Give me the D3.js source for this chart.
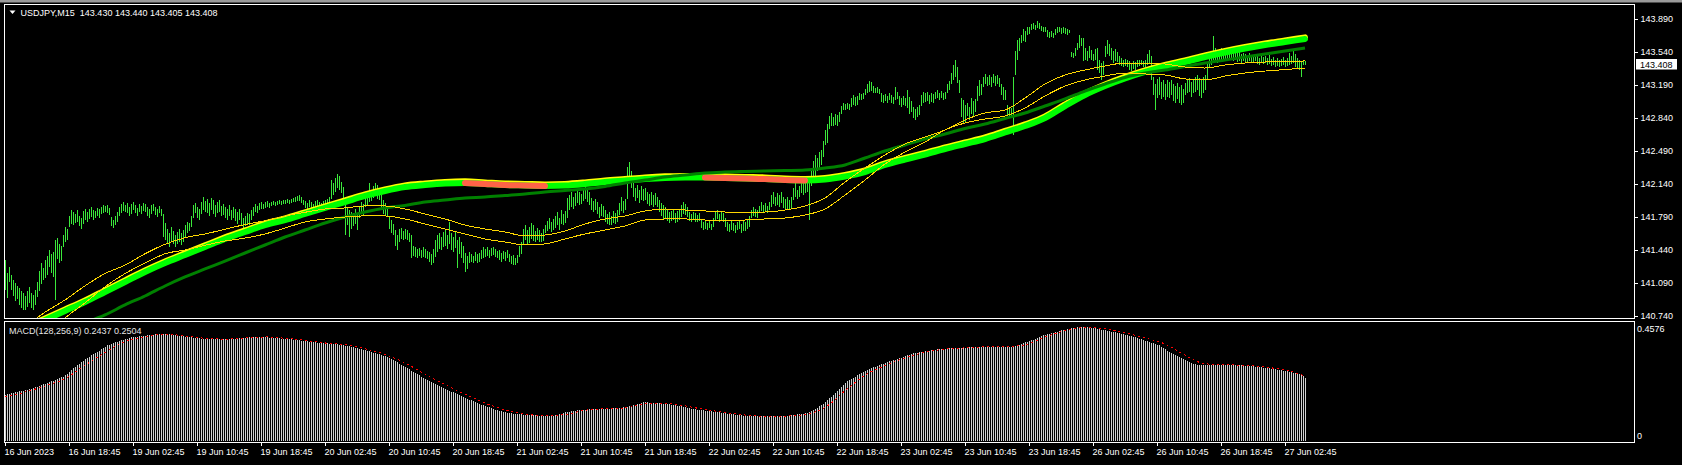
<!DOCTYPE html>
<html><head><meta charset="utf-8">
<script src="https://cdn.jsdelivr.net/npm/d3@7"></script>
<style>
html,body{margin:0;padding:0;background:#000;}
svg{display:block;}
text{font-family:"Liberation Sans",Arial,sans-serif;font-size:9px;fill:#fff;}
</style></head><body>
<svg id="chart" width="1682" height="465"></svg>
<script>
// ---------------- DATA ----------------
const symbolTitle = "USDJPY,M15";
const lastOHLC = [143.430, 143.440, 143.405, 143.408];
const timeLabels = ["16 Jun 2023","16 Jun 18:45","19 Jun 02:45","19 Jun 10:45","19 Jun 18:45","20 Jun 02:45","20 Jun 10:45","20 Jun 18:45","21 Jun 02:45","21 Jun 10:45","21 Jun 18:45","22 Jun 02:45","22 Jun 10:45","22 Jun 18:45","23 Jun 02:45","23 Jun 10:45","23 Jun 18:45","26 Jun 02:45","26 Jun 10:45","26 Jun 18:45","27 Jun 02:45"];
const LABEL_EVERY = 32; // bars between time labels
const priceTicks = [143.890,143.540,143.190,142.840,142.490,142.140,141.790,141.440,141.090,140.740];
const priceRange = [140.740, 143.890];

const barHigh = [
141.33,141.20,141.26,141.18,141.12,141.09,141.06,141.04,141.00,140.98,
140.95,141.00,141.05,140.98,140.96,141.02,141.10,141.22,141.30,141.25,
141.33,141.38,141.44,141.40,141.42,141.55,141.57,141.50,141.48,141.60,
141.68,141.66,141.80,141.86,141.84,141.82,141.86,141.80,141.78,141.85,
141.88,141.84,141.87,141.90,141.86,141.85,141.89,141.88,141.90,141.92,
141.91,141.92,141.89,141.79,141.76,141.80,141.84,141.90,141.93,141.95,
141.92,141.94,141.90,141.93,141.95,141.92,141.89,141.93,141.91,141.94,
141.93,141.90,141.88,141.92,141.93,141.90,141.87,141.91,141.88,141.82,
141.73,141.66,141.62,141.68,141.64,141.60,141.63,141.66,141.62,141.65,
141.70,141.74,141.73,141.80,141.92,141.94,141.90,141.88,141.95,142.00,
141.96,141.98,141.94,141.99,141.97,141.92,141.95,141.97,141.91,141.93,
141.90,141.88,141.92,141.86,141.90,141.87,141.84,141.88,141.83,141.78,
141.80,141.83,141.82,141.86,141.90,141.93,141.91,141.94,141.95,141.93,
141.95,141.96,141.94,141.95,141.96,141.95,141.96,141.97,141.96,141.97,
141.97,141.98,141.97,141.98,141.99,142.00,142.01,142.02,142.00,141.97,
141.96,141.94,141.97,141.95,141.93,141.96,141.97,141.95,141.94,141.96,
141.97,141.98,142.00,142.18,142.15,142.20,142.25,142.22,142.16,142.11,
142.00,141.90,141.86,141.84,141.83,141.88,141.83,141.90,141.95,141.93,
142.00,142.04,142.15,142.08,142.12,142.15,142.13,142.10,142.02,141.97,
141.94,141.90,141.79,141.76,141.72,141.65,141.60,141.66,141.67,141.64,
141.66,141.65,141.62,141.60,141.48,141.47,141.45,141.46,141.44,141.47,
141.45,141.43,141.42,141.40,141.45,141.55,141.60,141.62,141.58,141.63,
141.65,141.60,141.74,141.62,141.58,141.63,141.55,141.58,141.52,141.48,
141.41,141.38,141.42,141.40,141.38,141.42,141.40,141.41,141.44,141.47,
141.45,141.47,141.44,141.46,141.47,141.45,141.43,141.44,141.41,141.43,
141.42,141.44,141.40,141.38,141.39,141.36,141.39,141.48,141.53,141.66,
141.71,141.65,141.68,141.73,141.70,141.64,141.67,141.65,141.62,141.66,
141.70,141.75,141.78,141.74,141.77,141.80,141.84,141.78,141.86,141.82,
141.85,141.99,142.02,142.05,142.00,142.04,142.08,142.05,142.03,142.10,
142.13,142.08,142.05,141.99,141.96,141.98,141.95,141.90,141.93,141.91,
141.86,141.82,141.84,141.80,141.85,141.83,141.86,141.94,142.00,141.96,
141.98,142.32,142.37,142.28,142.21,142.10,142.13,142.08,142.12,142.09,
142.10,142.06,142.03,142.05,142.02,142.04,142.00,141.97,141.94,141.92,
141.90,141.86,141.84,141.85,141.86,141.83,141.85,141.86,141.92,141.95,
141.93,141.90,141.84,141.82,141.84,141.83,141.81,141.83,141.76,141.74,
141.75,141.73,141.76,141.72,141.78,141.84,141.86,141.82,141.85,141.83,
141.78,141.74,141.72,141.76,141.73,141.70,141.74,141.76,141.72,141.75,
141.74,141.76,141.80,141.86,141.90,141.88,141.86,141.91,141.95,141.92,
141.94,141.91,141.95,142.02,142.05,142.00,142.04,142.02,142.05,142.00,
141.98,142.00,141.97,142.00,142.10,142.15,142.08,142.12,142.18,142.15,
142.16,142.18,142.18,142.30,142.38,142.45,142.42,142.48,142.50,142.60,
142.71,142.78,142.86,142.89,142.85,142.88,142.87,142.90,142.97,143.00,
142.99,143.00,142.99,143.05,143.08,143.06,143.07,143.10,143.09,143.10,
143.15,143.20,143.23,143.22,143.18,143.16,143.17,143.15,143.10,143.08,
143.09,143.07,143.10,143.08,143.06,143.17,143.12,143.07,143.05,143.07,
143.05,143.14,143.06,143.02,142.96,142.94,142.96,142.98,143.08,143.12,
143.10,143.12,143.08,143.11,143.09,143.12,143.14,143.11,143.13,143.10,
143.12,143.20,143.23,143.32,143.40,143.455,143.38,143.24,143.05,143.03,
142.98,143.00,142.96,143.05,143.02,143.04,143.18,143.24,143.20,143.27,
143.31,143.28,143.30,143.27,143.31,143.29,143.30,143.26,143.20,143.17,
143.14,142.98,142.96,142.95,143.28,143.55,143.67,143.69,143.72,143.78,
143.76,143.81,143.80,143.84,143.85,143.83,143.87,143.85,143.82,143.80,
143.81,143.77,143.75,143.76,143.74,143.78,143.80,143.81,143.79,143.80,
143.79,143.78,143.77,143.54,143.53,143.58,143.64,143.72,143.69,143.69,
143.58,143.55,143.60,143.56,143.52,143.57,143.58,143.455,143.42,143.44,
143.60,143.67,143.63,143.58,143.55,143.57,143.54,143.50,143.48,143.46,
143.47,143.45,143.44,143.42,143.44,143.43,143.46,143.45,143.46,143.44,
143.45,143.52,143.56,143.50,143.28,143.20,143.25,143.27,143.22,143.24,
143.20,143.24,143.22,143.24,143.20,143.18,143.21,143.17,143.19,143.15,
143.21,143.24,143.26,143.22,143.25,143.28,143.30,143.26,143.24,143.28,
143.30,143.43,143.50,143.54,143.71,143.58,143.55,143.57,143.58,143.55,
143.56,143.58,143.55,143.57,143.54,143.56,143.53,143.55,143.52,143.53,
143.52,143.50,143.53,143.51,143.49,143.52,143.50,143.48,143.51,143.49,
143.50,143.48,143.51,143.47,143.49,143.46,143.48,143.45,143.47,143.49,
143.46,143.48,143.53,143.50,143.56,143.52,143.48,143.46,143.44,143.45,
143.44];

const barLow = [
141.02,140.93,141.10,141.02,140.95,140.90,140.92,140.86,140.82,140.80,
140.80,140.84,140.88,140.82,140.80,140.86,140.94,141.00,141.08,141.12,
141.14,141.18,141.26,141.20,141.15,140.91,141.34,141.30,141.32,141.47,
141.52,141.55,141.68,141.72,141.70,141.73,141.74,141.69,141.66,141.72,
141.76,141.74,141.77,141.79,141.76,141.78,141.80,141.78,141.82,141.83,
141.84,141.83,141.81,141.69,141.67,141.71,141.74,141.80,141.83,141.85,
141.84,141.83,141.80,141.82,141.86,141.83,141.80,141.84,141.82,141.85,
141.84,141.80,141.78,141.82,141.85,141.81,141.79,141.83,141.80,141.58,
141.55,141.50,141.47,141.52,141.50,141.47,141.50,141.52,141.49,141.53,
141.58,141.62,141.64,141.68,141.78,141.83,141.78,141.76,141.82,141.86,
141.84,141.83,141.80,141.86,141.82,141.79,141.83,141.84,141.80,141.81,
141.78,141.76,141.80,141.76,141.78,141.75,141.72,141.76,141.71,141.66,
141.69,141.72,141.70,141.76,141.80,141.84,141.83,141.86,141.88,141.87,
141.89,141.90,141.89,141.91,141.92,141.91,141.92,141.93,141.92,141.93,
141.93,141.94,141.93,141.94,141.95,141.95,141.96,141.96,141.94,141.92,
141.89,141.88,141.90,141.88,141.87,141.89,141.90,141.89,141.88,141.90,
141.90,141.91,141.92,141.98,142.02,142.06,142.10,142.08,142.04,141.97,
141.60,141.70,141.58,141.66,141.69,141.72,141.65,141.78,141.82,141.80,
141.90,141.92,141.95,141.96,141.99,142.02,141.98,141.97,141.86,141.82,
141.80,141.79,141.66,141.62,141.60,141.48,141.44,141.52,141.56,141.55,
141.56,141.55,141.52,141.36,141.38,141.37,141.36,141.38,141.36,141.37,
141.36,141.34,141.31,141.28,141.30,141.37,141.42,141.45,141.44,141.47,
141.48,141.45,141.50,141.44,141.42,141.46,141.25,141.40,141.36,141.30,
141.21,141.24,141.30,141.31,141.30,141.32,141.30,141.31,141.34,141.36,
141.37,141.38,141.36,141.38,141.39,141.37,141.36,141.33,141.31,141.34,
141.32,141.35,141.31,141.29,141.28,141.28,141.30,141.37,141.40,141.49,
141.55,141.50,141.51,141.56,141.54,141.52,141.55,141.53,141.52,141.54,
141.62,141.64,141.66,141.63,141.65,141.67,141.70,141.65,141.72,141.70,
141.73,141.78,141.86,141.90,141.88,141.91,141.94,141.92,141.93,141.96,
141.98,141.95,141.92,141.86,141.84,141.86,141.82,141.78,141.80,141.79,
141.74,141.72,141.70,141.71,141.73,141.72,141.74,141.81,141.85,141.83,
141.86,141.98,142.18,142.10,142.00,141.96,141.99,141.94,141.97,141.96,
141.97,141.93,141.91,141.92,141.90,141.92,141.90,141.84,141.80,141.76,
141.78,141.75,141.73,141.75,141.76,141.73,141.74,141.76,141.79,141.82,
141.81,141.79,141.75,141.74,141.76,141.74,141.74,141.75,141.67,141.65,
141.66,141.65,141.67,141.65,141.68,141.75,141.77,141.74,141.76,141.74,
141.68,141.64,141.63,141.65,141.64,141.62,141.65,141.66,141.62,141.64,
141.64,141.66,141.68,141.78,141.80,141.79,141.78,141.83,141.85,141.84,
141.85,141.83,141.86,141.90,141.93,141.91,141.92,141.90,141.94,141.89,
141.86,141.88,141.87,141.89,141.97,142.00,141.98,142.00,142.04,142.02,
142.04,142.05,141.76,142.12,142.20,142.22,142.28,142.30,142.34,142.43,
142.55,142.58,142.72,142.76,142.75,142.77,142.76,142.80,142.88,142.92,
142.93,142.94,142.93,142.96,142.98,142.97,142.98,143.03,143.03,143.04,
143.08,143.10,143.12,143.13,143.10,143.10,143.11,143.09,143.01,143.00,
143.02,143.00,143.03,143.00,142.99,143.03,143.04,142.98,142.96,142.98,
142.97,142.95,142.88,142.90,142.84,142.82,142.85,142.87,142.97,143.00,
143.01,143.02,142.99,143.01,143.00,143.04,143.05,143.03,143.05,143.03,
143.04,143.10,143.14,143.20,143.24,143.28,143.21,143.10,142.85,142.78,
142.80,142.86,142.82,142.88,142.85,142.90,143.02,143.07,143.08,143.17,
143.20,143.18,143.19,143.17,143.21,143.18,143.20,143.17,143.08,143.03,
143.03,142.86,142.85,142.86,142.66,143.30,143.46,143.55,143.64,143.66,
143.65,143.72,143.73,143.77,143.78,143.77,143.79,143.78,143.76,143.75,
143.75,143.70,143.69,143.70,143.69,143.72,143.74,143.75,143.73,143.74,
143.73,143.72,143.74,143.49,143.48,143.50,143.56,143.58,143.60,143.44,
143.46,143.44,143.48,143.45,143.44,143.46,143.35,143.32,143.24,143.30,
143.49,143.52,143.50,143.45,143.42,143.44,143.43,143.40,143.39,143.38,
143.39,143.38,143.35,143.34,143.36,143.35,143.38,143.39,143.40,143.38,
143.38,143.40,143.42,143.24,143.08,142.93,143.05,143.08,143.04,143.06,
143.03,143.06,143.05,143.08,143.02,143.00,143.04,143.00,142.98,143.00,
143.08,143.10,143.12,143.06,143.10,143.12,143.14,143.07,143.05,143.10,
143.14,143.24,143.37,143.40,143.45,143.44,143.42,143.45,143.46,143.44,
143.46,143.47,143.45,143.46,143.44,143.45,143.43,143.44,143.42,143.44,
143.43,143.43,143.44,143.43,143.42,143.44,143.41,143.40,143.42,143.41,
143.42,143.40,143.41,143.39,143.40,143.38,143.39,143.38,143.39,143.40,
143.38,143.39,143.40,143.41,143.42,143.38,143.36,143.35,143.27,143.40,
143.405];

const MA_STEP = 10; // bars between moving-average samples
const maFast = [140.507,140.602,140.698,140.793,140.889,140.995,141.101,141.207,141.302,141.387,
141.472,141.557,141.631,141.705,141.758,141.822,141.886,141.949,142.013,142.066,
142.108,142.129,142.145,142.151,142.140,142.129,142.124,142.119,142.124,142.140,
142.161,142.177,142.193,142.204,142.208,142.209,142.204,142.198,142.193,142.182,
142.177,142.188,142.220,142.267,142.342,142.400,142.453,142.511,142.564,142.617,
142.686,142.755,142.840,142.967,143.084,143.179,143.259,143.328,143.386,143.434,
143.487,143.535,143.577,143.614,143.646,143.678];
const maSlow = [140.273,140.379,140.475,140.570,140.666,140.751,140.857,140.952,141.058,141.154,
141.239,141.323,141.408,141.493,141.578,141.652,141.726,141.790,141.843,141.886,
141.912,141.949,141.970,141.992,142.002,142.018,142.034,142.055,142.071,142.087,
142.114,142.151,142.182,142.214,142.235,142.257,142.267,142.273,142.278,142.283,
142.289,142.310,142.342,142.416,142.490,142.554,142.617,142.670,142.729,142.776,
142.835,142.893,142.967,143.042,143.126,143.201,143.270,143.317,143.349,143.386,
143.423,143.455,143.487,143.519,143.551,143.582];
const chanUpper = [140.49,140.63,140.78,140.91,141.06,141.19,141.28,141.40,141.50,141.57,
141.61,141.66,141.71,141.75,141.80,141.84,141.875,141.886,141.907,141.907,
141.875,141.822,141.769,141.705,141.663,141.631,141.589,141.599,141.642,141.716,
141.769,141.801,141.854,141.875,141.864,141.854,141.843,141.843,141.843,141.864,
141.907,141.992,142.161,142.31,142.448,142.564,142.639,142.713,142.819,142.893,
142.925,143.052,143.201,143.296,143.349,143.392,143.423,143.423,143.413,143.381,
143.37,143.402,143.423,143.434,143.439,143.445];
const chanLower = [140.27,140.40,140.54,140.72,140.88,141.05,141.19,141.30,141.40,141.44,
141.49,141.535,141.567,141.61,141.673,141.737,141.769,141.79,141.801,141.801,
141.769,141.716,141.663,141.61,141.557,141.525,141.493,141.504,141.557,141.61,
141.652,141.695,141.758,141.769,141.769,141.758,141.748,141.758,141.769,141.779,
141.811,141.875,142.023,142.182,142.352,142.479,142.585,142.713,142.787,142.829,
142.861,142.946,143.073,143.179,143.243,143.285,143.317,143.307,143.296,143.254,
143.243,143.285,143.317,143.338,143.354,143.37];

const macdParams = "MACD(128,256,9)";
const macdScaleMax = 0.4576;
const macdHist = [
.178,.180,.182,.183,.185,.187,.189,.191,.192,.194,
.196,.198,.199,.201,.203,.206,.209,.212,.215,.218,
.221,.224,.227,.229,.232,.235,.238,.242,.245,.248,
.252,.258,.265,.272,.279,.285,.291,.297,.303,.308,
.314,.319,.324,.329,.334,.339,.343,.348,.353,.358,
.363,.368,.371,.374,.377,.380,.382,.384,.387,.389,
.391,.394,.396,.398,.399,.400,.401,.402,.403,.404,
.405,.406,.407,.408,.409,.410,.411,.412,.413,.413,
.412,.411,.410,.409,.408,.407,.405,.404,.403,.402,
.401,.400,.399,.398,.396,.396,.395,.395,.394,.394,
.393,.393,.392,.392,.392,.392,.392,.392,.392,.392,
.392,.392,.393,.393,.394,.394,.395,.395,.396,.397,
.397,.398,.398,.399,.400,.400,.401,.401,.400,.399,
.399,.398,.397,.397,.396,.396,.395,.395,.394,.393,
.393,.392,.392,.391,.390,.389,.388,.387,.386,.385,
.384,.383,.382,.381,.380,.379,.378,.377,.376,.376,
.375,.375,.374,.374,.373,.373,.372,.371,.370,.369,
.367,.366,.364,.363,.361,.359,.357,.355,.353,.351,
.349,.347,.345,.343,.340,.338,.335,.333,.330,.327,
.325,.322,.318,.314,.310,.306,.302,.298,.294,.289,
.284,.280,.275,.270,.266,.261,.257,.252,.248,.244,
.240,.236,.232,.228,.223,.219,.215,.212,.208,.204,
.201,.197,.194,.190,.187,.183,.180,.176,.173,.169,
.166,.162,.159,.156,.153,.149,.146,.143,.140,.137,
.134,.132,.129,.126,.124,.121,.119,.116,.114,.112,
.111,.109,.108,.106,.105,.103,.103,.102,.102,.101,
.101,.100,.100,.100,.099,.099,.098,.098,.097,.097,
.096,.096,.096,.097,.098,.100,.101,.103,.105,.108,
.110,.111,.113,.114,.116,.117,.118,.119,.120,.121,
.121,.122,.123,.123,.124,.124,.124,.124,.124,.124,
.124,.124,.124,.124,.125,.126,.126,.127,.128,.129,
.131,.132,.134,.136,.138,.140,.142,.144,.146,.149,
.149,.149,.148,.148,.147,.147,.146,.145,.145,.144,
.143,.142,.141,.140,.139,.137,.136,.134,.133,.131,
.130,.128,.126,.124,.123,.122,.121,.120,.119,.118,
.117,.116,.115,.114,.113,.112,.111,.110,.108,.107,
.106,.105,.104,.103,.102,.101,.100,.099,.099,.098,
.097,.097,.096,.096,.095,.095,.095,.095,.095,.095,
.095,.095,.095,.095,.095,.096,.096,.096,.097,.097,
.098,.098,.099,.099,.100,.101,.102,.103,.104,.105,
.107,.109,.112,.115,.119,.124,.128,.133,.137,.143,
.150,.158,.164,.170,.178,.185,.192,.200,.207,.214,
.222,.229,.234,.238,.243,.247,.252,.256,.261,.265,
.269,.272,.276,.279,.283,.286,.290,.293,.296,.298,
.301,.303,.306,.308,.311,.313,.316,.319,.321,.324,
.327,.330,.332,.335,.337,.338,.340,.341,.343,.344,
.346,.347,.348,.349,.350,.351,.352,.353,.354,.355,
.355,.356,.356,.357,.357,.357,.358,.358,.358,.359,
.359,.359,.360,.360,.360,.361,.361,.361,.362,.362,
.362,.363,.363,.363,.363,.363,.363,.363,.363,.363,
.363,.363,.363,.363,.363,.364,.367,.370,.373,.376,
.379,.381,.384,.387,.390,.393,.396,.400,.403,.406,
.409,.411,.413,.415,.417,.419,.421,.423,.425,.427,
.428,.430,.432,.433,.435,.436,.438,.438,.438,.438,
.437,.437,.436,.435,.434,.433,.431,.430,.428,.427,
.425,.424,.422,.421,.419,.418,.416,.414,.413,.411,
.409,.407,.405,.402,.400,.398,.396,.394,.391,.389,
.386,.384,.381,.378,.376,.373,.370,.368,.363,.358,
.353,.348,.343,.339,.335,.330,.326,.322,.319,.315,
.312,.308,.305,.301,.298,.296,.293,.293,.293,.293,
.293,.293,.293,.293,.293,.293,.293,.293,.293,.293,
.293,.293,.293,.293,.293,.292,.292,.291,.291,.290,
.290,.289,.289,.288,.287,.286,.285,.284,.283,.282,
.281,.280,.279,.278,.277,.275,.274,.273,.272,.271,
.269,.268,.267,.265,.263,.261,.259,.256,.253,.249,
.2437];
const macdSignal = [.170,.188,.212,.240,.291,.340,.382,.400,.411,.404,
.395,.392,.396,.400,.395,.387,.377,.371,.355,.333,
.300,.257,.217,.180,.146,.120,.103,.098,.102,.118,
.124,.127,.143,.146,.135,.121,.110,.100,.095,.096,
.102,.129,.193,.253,.290,.319,.341,.353,.358,.362,
.363,.370,.400,.424,.437,.431,.416,.396,.373,.330,
.297,.293,.291,.284,.273,.2504];

// ---------------- DRAWING ----------------
const W = 1682, H = 465;
const FONT = '"Liberation Sans",Arial,sans-serif';
const svg = d3.select("#chart");
const n = barHigh.length;

const x = d3.scaleLinear().domain([0, n - 1]).range([5, 5 + 2 * (n - 1)]);
const yP = d3.scaleLinear().domain(priceRange).range([316, 19]);
const yM = d3.scaleLinear().domain([0, macdScaleMax]).range([441, 322]);

svg.append("rect").attr("x", 0).attr("y", 0).attr("width", W).attr("height", H).attr("fill", "#000");
svg.append("rect").attr("x", 0).attr("y", 0).attr("width", W).attr("height", 2.5).attr("fill", "#9a9a9a");

const defs = svg.append("defs");
defs.append("clipPath").attr("id", "clipMain").append("rect")
  .attr("x", 5).attr("y", 5).attr("width", 1629).attr("height", 313);
defs.append("clipPath").attr("id", "clipMacd").append("rect")
  .attr("x", 5).attr("y", 322).attr("width", 1629).attr("height", 120);

// price bars
const gMain = svg.append("g").attr("clip-path", "url(#clipMain)");
gMain.append("g").selectAll("line").data(barHigh).join("line")
  .attr("x1", (d, i) => x(i) + 0.5).attr("x2", (d, i) => x(i) + 0.5)
  .attr("y1", d => yP(d))
  .attr("y2", (d, i) => Math.max(yP(barLow[i]), yP(d) + 1))
  .attr("stroke", "#3ae83a").attr("stroke-width", 1)
  .attr("shape-rendering", "crispEdges");

// moving averages
const pts = arr => arr.map((v, k) => ({ i: k * MA_STEP, v }));
const lineP = d3.line().x(d => x(d.i)).y(d => yP(d.v)).curve(d3.curveMonotoneX);
const fastPts = pts(maFast);

gMain.append("path").datum(fastPts).attr("d", lineP)
  .attr("fill", "none").attr("stroke", "#ffff00").attr("stroke-width", 6)
  .attr("stroke-linecap", "round").attr("transform", "translate(0,-1.6)");
gMain.append("path").datum(fastPts).attr("d", lineP)
  .attr("fill", "none").attr("stroke", "#00ff00").attr("stroke-width", 6)
  .attr("stroke-linecap", "round");

const runs = [];
for (let k = 0; k < maFast.length - 1; k++) {
  if (maFast[k + 1] < maFast[k]) {
    if (runs.length && runs[runs.length - 1][1] === k) runs[runs.length - 1][1] = k + 1;
    else runs.push([k, k + 1]);
  }
}
runs.forEach(([a, b]) => {
  gMain.append("path").datum(fastPts.slice(a, b + 1)).attr("d", lineP)
    .attr("fill", "none").attr("stroke", "#ff6347").attr("stroke-width", 6)
    .attr("stroke-linecap", "round");
});

gMain.append("path").datum(pts(maSlow)).attr("d", lineP)
  .attr("fill", "none").attr("stroke", "#008000").attr("stroke-width", 3);

[chanUpper, chanLower].forEach(arr => {
  gMain.append("path").datum(pts(arr)).attr("d", lineP)
    .attr("fill", "none").attr("stroke", "#ffd700").attr("stroke-width", 1)
    .attr("shape-rendering", "crispEdges");
});

// MACD
const gMacd = svg.append("g").attr("clip-path", "url(#clipMacd)");
gMacd.append("g").selectAll("line").data(macdHist).join("line")
  .attr("x1", (d, i) => x(i) + 0.5).attr("x2", (d, i) => x(i) + 0.5)
  .attr("y1", yM(0)).attr("y2", d => yM(d))
  .attr("stroke", "#d0d0d0").attr("stroke-width", 1)
  .attr("shape-rendering", "crispEdges");
const lineM = d3.line().x(d => x(d.i)).y(d => yM(d.v)).curve(d3.curveMonotoneX);
gMacd.append("path").datum(pts(macdSignal)).attr("d", lineM)
  .attr("fill", "none").attr("stroke", "#ff0000").attr("stroke-width", 1)
  .attr("stroke-dasharray", "2,3").attr("shape-rendering", "crispEdges");

// frames
svg.append("rect").attr("x", 4.5).attr("y", 4.5).attr("width", 1630).attr("height", 314)
  .attr("fill", "none").attr("stroke", "#fff").attr("shape-rendering", "crispEdges");
svg.append("rect").attr("x", 4.5).attr("y", 321.5).attr("width", 1630).attr("height", 121)
  .attr("fill", "none").attr("stroke", "#fff").attr("shape-rendering", "crispEdges");

// price axis
const gAx = svg.append("g").attr("transform", "translate(1634.5,0)")
  .call(d3.axisRight(yP).tickValues(priceTicks).tickSize(3).tickPadding(3).tickFormat(d3.format(".3f")));
gAx.attr("font-family", FONT).attr("font-size", 9).attr("color", "#fff");
gAx.select(".domain").remove();
gAx.selectAll(".tick line").attr("shape-rendering", "crispEdges");

// bid label
const bid = lastOHLC[3];
svg.append("rect").attr("x", 1636).attr("y", Math.round(yP(bid)) - 5).attr("width", 41).attr("height", 10.5).attr("fill", "#fff");
svg.append("text").attr("x", 1640).attr("y", yP(bid)).attr("dy", "0.34em")
  .style("fill", "#000").text(bid.toFixed(3));

// MACD scale labels
svg.append("text").attr("x", 1637).attr("y", yM(macdScaleMax) + 6.5).attr("dy", "0.34em").text(macdScaleMax.toFixed(4));
svg.append("text").attr("x", 1637).attr("y", yM(0) - 5.3).attr("dy", "0.34em").text("0");

// time axis
const gT = svg.append("g").attr("transform", "translate(0,442)")
  .call(d3.axisBottom(x).tickValues(timeLabels.map((t, k) => k * LABEL_EVERY))
    .tickSize(4).tickPadding(3).tickFormat((d, k) => timeLabels[k]));
gT.attr("font-family", FONT).attr("font-size", 9).attr("color", "#fff");
gT.select(".domain").remove();
gT.selectAll(".tick line").attr("shape-rendering", "crispEdges");
gT.selectAll(".tick text").attr("text-anchor", "start").attr("dx", -1);

// titles
svg.append("path").attr("d", "M9.5,10.5 L15.5,10.5 L12.5,14 Z").attr("fill", "#fff");
svg.append("text").attr("x", 20.5).attr("y", 16).style("white-space", "pre")
  .text(symbolTitle + "  " + lastOHLC.map(v => v.toFixed(3)).join(" "));
svg.append("text").attr("x", 9).attr("y", 334).style("fill", "#e6e6e6")
  .text(macdParams + " " + macdHist[n - 1].toFixed(4) + " " + macdSignal[macdSignal.length - 1].toFixed(4));
</script>
</body></html>
